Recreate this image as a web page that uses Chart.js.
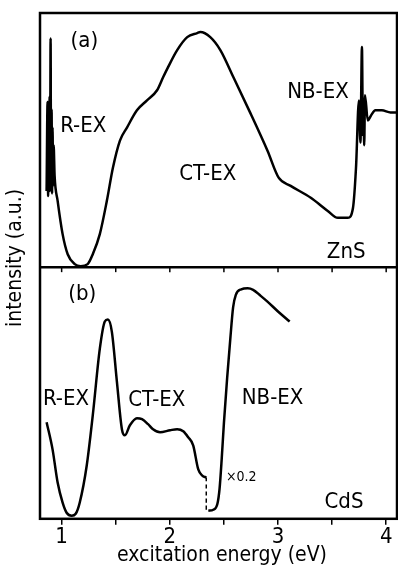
<!DOCTYPE html>
<html>
<head>
<meta charset="utf-8">
<script src="https://cdn.jsdelivr.net/npm/chart.js@4.4.0/dist/chart.umd.min.js"></script>
<style>
  html, body { margin: 0; padding: 0; background: #fff; }
  #wrap { width: 398px; height: 572px; }
</style>
</head>
<body>
<div id="wrap"><canvas id="excitationChart"></canvas></div>
<script>
// (a) ZnS, intensity in arbitrary units (0 = panel bottom, 10 = panel top)
var znsEnergy = [0.861, 0.870, 0.875, 0.879, 0.884, 0.889, 0.893, 0.898, 0.902, 0.907, 0.912, 0.916, 0.921, 0.926, 0.935,
  0.963, 1.009, 1.056, 1.121, 1.176, 1.241, 1.288, 1.353, 1.418, 1.474, 1.539, 1.604, 1.696, 1.789, 1.882, 1.938,
  1.984, 2.068, 2.161, 2.253, 2.281, 2.374, 2.467, 2.588, 2.746, 2.903, 3.006, 3.117, 3.303, 3.460, 3.553, 3.646,
  3.693, 3.721, 3.748, 3.762, 3.776, 3.785, 3.790, 3.797, 3.804, 3.830, 3.860, 3.900, 3.960, 4.040, 4.100];
var znsIntensity = [3.0, 6.5, 2.8, 6.0, 3.3, 6.7, 3.0, 9.0, 3.5, 6.2, 2.9, 5.5, 3.2, 4.8, 3.6,
  2.61, 1.30, 0.51, 0.12, 0.04, 0.12, 0.51, 1.30, 2.61, 3.91, 4.98, 5.49, 6.17, 6.56, 6.96, 7.47,
  7.87, 8.54, 9.05, 9.21, 9.25, 9.05, 8.54, 7.47, 6.05, 4.58, 3.52, 3.20, 2.73, 2.21, 1.94, 1.94,
  2.33, 3.91, 6.56, 4.9, 8.66, 5.2, 6.2, 4.8, 6.76, 5.77, 5.97, 6.17, 6.17, 6.09, 6.09];

// (b) CdS up to the band edge
var cdsEnergy = [0.861, 0.916, 0.963, 1.009, 1.046, 1.093, 1.130, 1.167, 1.232, 1.288, 1.353, 1.399, 1.427, 1.464,
  1.511, 1.557, 1.585, 1.631, 1.696, 1.743, 1.799, 1.845, 1.910, 2.003, 2.068, 2.124, 2.170, 2.216, 2.263, 2.300, 2.337];
var cdsIntensity = [3.84, 2.76, 1.44, 0.64, 0.24, 0.12, 0.20, 0.64, 2.12, 4.12, 6.76, 7.84, 7.92, 7.44,
  5.44, 3.56, 3.32, 3.72, 4.00, 3.96, 3.76, 3.56, 3.44, 3.52, 3.56, 3.48, 3.24, 2.92, 1.96, 1.72, 1.64];

// (b) CdS above the band edge, shown x0.2
var cdsScaledEnergy = [2.356, 2.402, 2.440, 2.460, 2.480, 2.500, 2.530, 2.560, 2.585, 2.610, 2.660, 2.720, 2.770,
  2.840, 2.900, 3.000, 3.108];
var cdsScaledIntensity = [0.32, 0.36, 0.60, 1.20, 2.40, 3.80, 5.60, 7.20, 8.40, 8.90, 9.12, 9.16, 9.10,
  8.86, 8.64, 8.24, 7.84];

// dashed join between the two CdS parts
var cdsJoinEnergy = [2.337, 2.337];
var cdsJoinIntensity = [1.64, 0.32];

var xTickLabels = [1, 2, 3, 4];

// panel notes: text, panel axis, energy, intensity
var noteText = ['(a)', 'R-EX', 'CT-EX', 'NB-EX', 'ZnS', '(b)', 'R-EX', 'CT-EX', 'NB-EX', 'CdS', '\u00d70.2'];
var noteAxis = ['yTop', 'yTop', 'yTop', 'yTop', 'yTop', 'yBot', 'yBot', 'yBot', 'yBot', 'yBot', 'yBot'];
var noteEnergy = [1.21, 1.20, 2.35, 3.37, 3.63, 1.19, 1.04, 1.88, 2.95, 3.61, 2.66];
var noteIntensity = [8.89, 5.53, 3.64, 6.88, 0.59, 8.92, 4.76, 4.72, 4.80, 0.64, 1.64];

function points(xs, ys) {
  return xs.map(function (x, i) { return { x: x, y: ys[i] }; });
}

var fontFamily = '"DejaVu Sans Condensed", "DejaVu Sans", sans-serif';

var frameAndText = {
  id: 'frameAndText',
  afterDraw: function (chart) {
    var ctx = chart.ctx;
    var area = chart.chartArea;
    var xs = chart.scales.x;
    var split = chart.scales.yTop.bottom;
    ctx.save();
    ctx.strokeStyle = '#000';
    ctx.lineWidth = 2.5;
    ctx.strokeRect(area.left, area.top, area.right - area.left, area.bottom - area.top);
    ctx.beginPath();
    ctx.moveTo(area.left, split);
    ctx.lineTo(area.right, split);
    ctx.stroke();
    // small ticks under the divider
    ctx.lineWidth = 1.5;
    xs.ticks.forEach(function (t) {
      var px = xs.getPixelForValue(t.value);
      ctx.beginPath();
      ctx.moveTo(px, split);
      ctx.lineTo(px, split + 5);
      ctx.stroke();
    });

    ctx.fillStyle = '#000';
    ctx.textAlign = 'center';
    ctx.textBaseline = 'middle';
    for (var i = 0; i < noteText.length; i++) {
      var small = noteText[i] === '\u00d70.2';
      ctx.font = (small ? '14px ' : '22px ') + fontFamily;
      ctx.fillText(noteText[i], xs.getPixelForValue(noteEnergy[i]),
        chart.scales[noteAxis[i]].getPixelForValue(noteIntensity[i]));
    }

    ctx.font = '21px ' + fontFamily;
    ctx.fillText('excitation energy (eV)', 222, 556);
    ctx.translate(16, 258);
    ctx.rotate(-Math.PI / 2);
    ctx.fillText('intensity (a.u.)', 0, 0);
    ctx.restore();
  }
};

var lineStyle = {
  borderColor: '#000',
  borderWidth: 2.5,
  pointRadius: 0,
  fill: false,
  cubicInterpolationMode: 'monotone'
};

var ctx = document.getElementById('excitationChart').getContext('2d');
var chart = new Chart(ctx, {
  type: 'line',
  data: {
    datasets: [
      Object.assign({ label: 'ZnS', yAxisID: 'yTop', data: points(znsEnergy, znsIntensity) }, lineStyle),
      Object.assign({ label: 'CdS', yAxisID: 'yBot', data: points(cdsEnergy, cdsIntensity) }, lineStyle),
      Object.assign({ label: 'CdS x0.2', yAxisID: 'yBot', data: points(cdsScaledEnergy, cdsScaledIntensity) }, lineStyle),
      Object.assign({ label: 'join', yAxisID: 'yBot', data: points(cdsJoinEnergy, cdsJoinIntensity) }, lineStyle,
        { borderWidth: 1.5, borderDash: [4, 3] })
    ]
  },
  options: {
    responsive: true,
    maintainAspectRatio: false,
    animation: false,
    layout: { padding: { left: 40, right: 1, top: 13, bottom: 23 } },
    plugins: { legend: { display: false }, tooltip: { enabled: false } },
    scales: {
      x: {
        type: 'linear',
        min: 0.8,
        max: 4.1,
        border: { display: false },
        grid: { drawOnChartArea: false, color: '#000', tickLength: 6, lineWidth: 1.5 },
        ticks: {
          stepSize: 0.5,
          includeBounds: false,
          maxRotation: 0,
          padding: 0,
          color: '#000',
          font: { family: fontFamily, size: 22, lineHeight: 1.1 },
          callback: function (v) { return xTickLabels.indexOf(v) >= 0 ? String(v) : ''; }
        }
      },
      yBot: {
        type: 'linear',
        position: 'left',
        stack: 'panels',
        stackWeight: 1,
        min: 0,
        max: 10,
        border: { display: false },
        grid: { display: false, drawTicks: false },
        ticks: { display: false }
      },
      yTop: {
        type: 'linear',
        position: 'left',
        stack: 'panels',
        stackWeight: 1.01,
        min: 0,
        max: 10,
        border: { display: false },
        grid: { display: false, drawTicks: false },
        ticks: { display: false }
      }
    }
  },
  plugins: [frameAndText]
});
</script>
</body>
</html>
